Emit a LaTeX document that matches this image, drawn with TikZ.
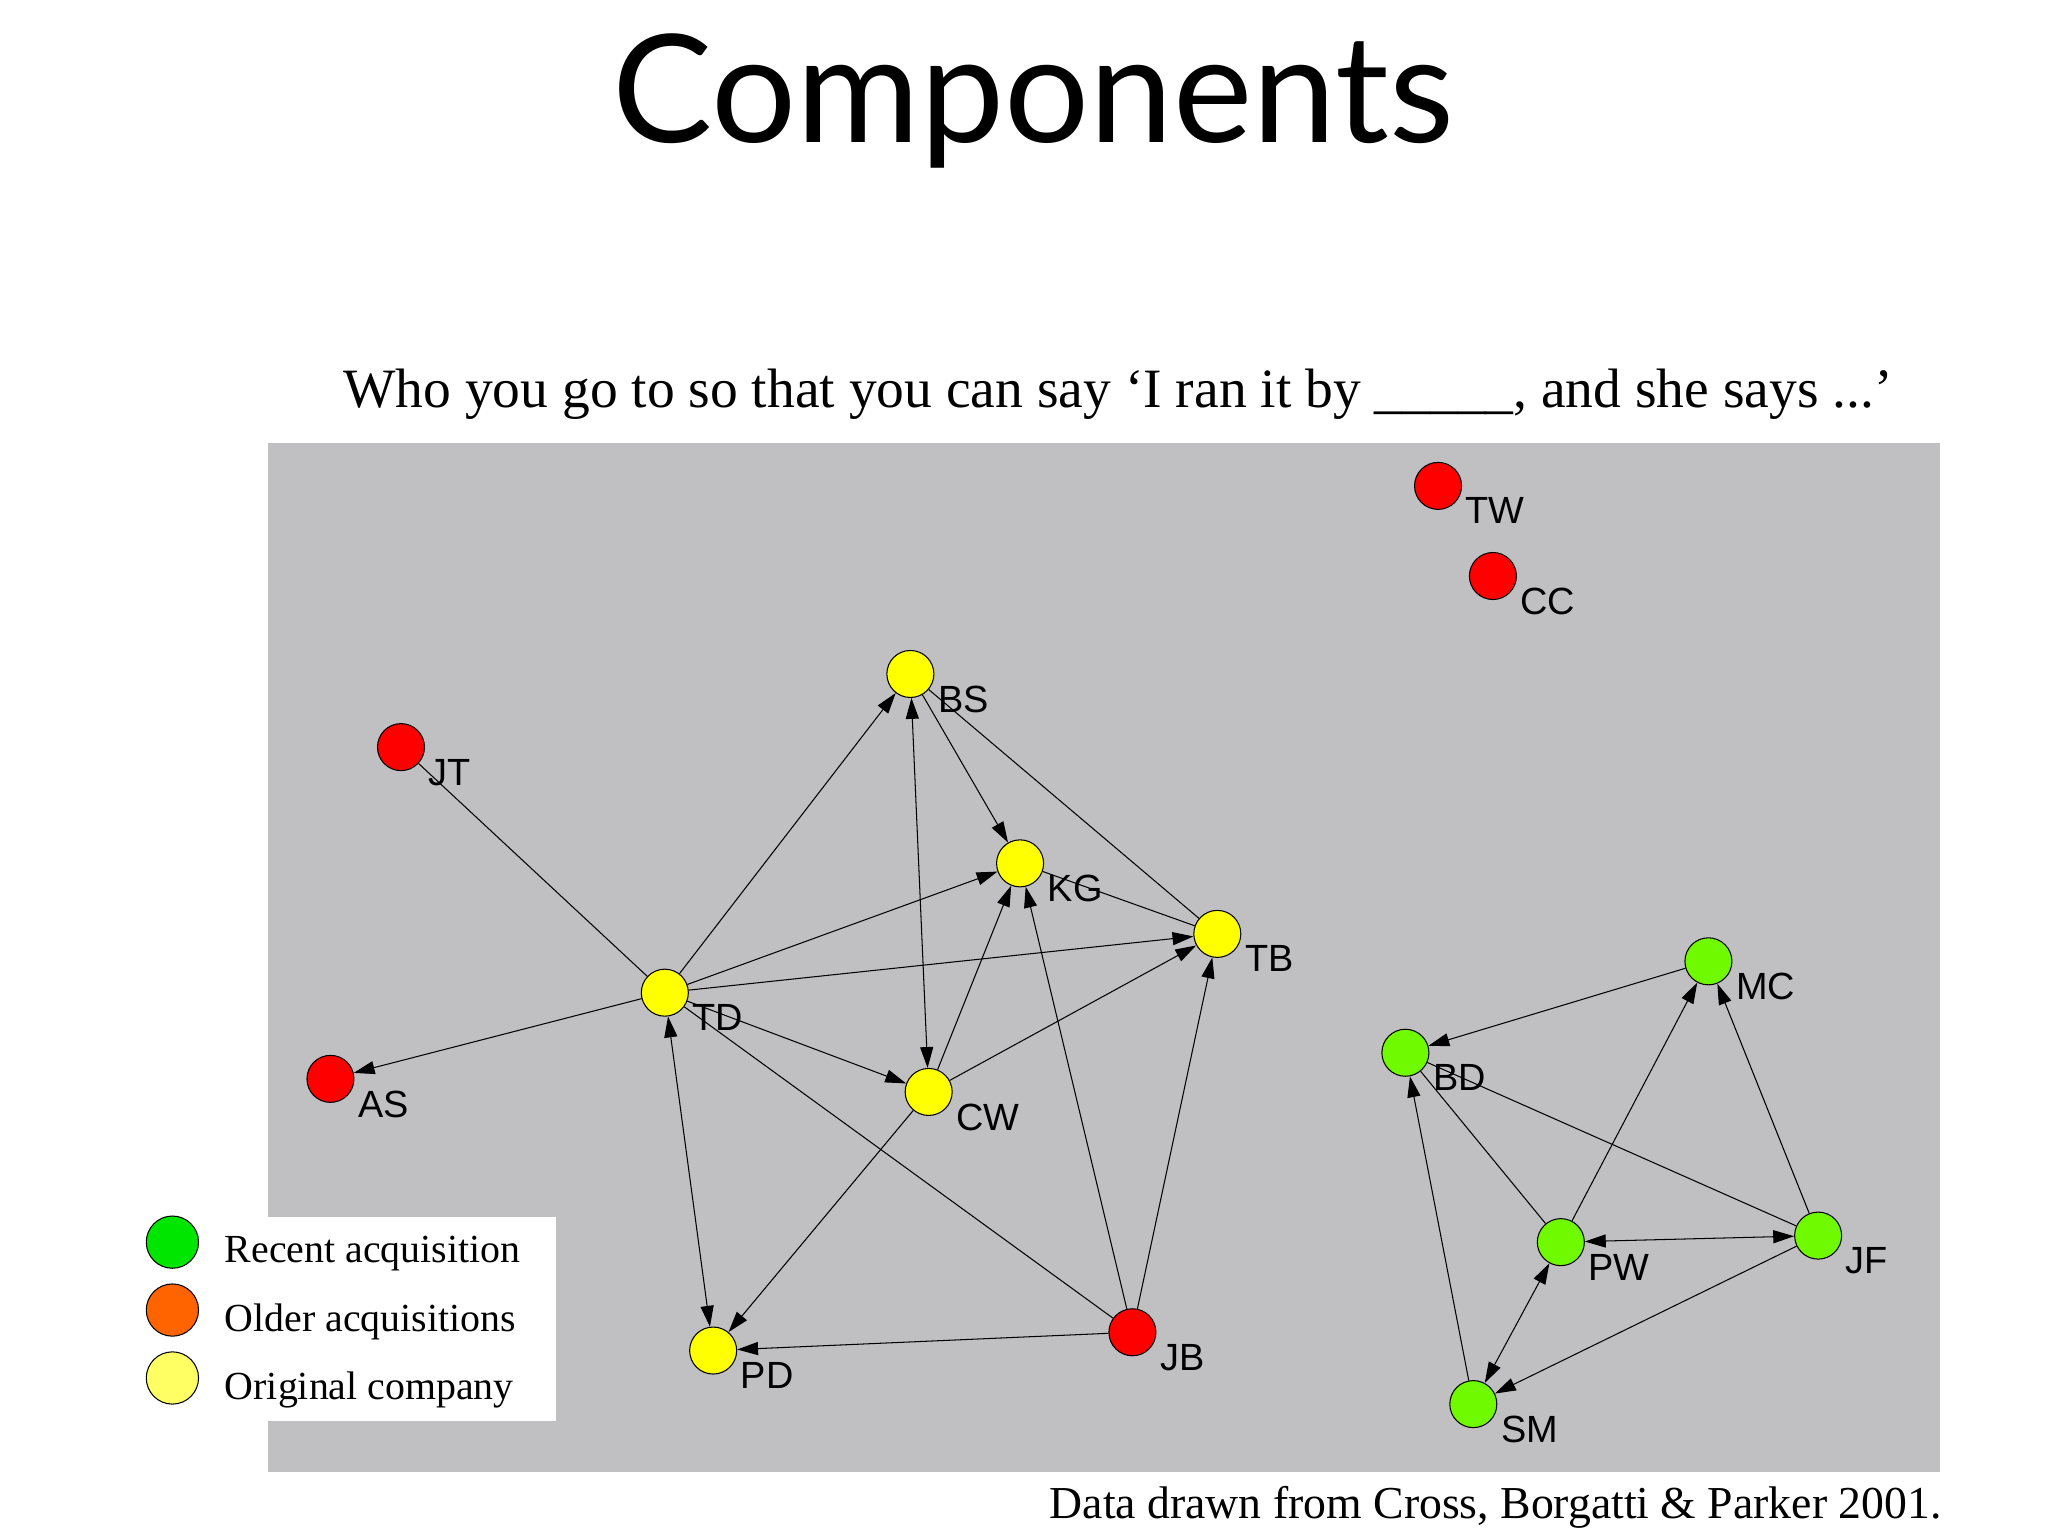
\documentclass[tikz,border=0pt]{standalone}
\usepackage{fontspec}
\setmainfont{Liberation Serif}
\newfontfamily\arial{Liberation Sans}
\newfontfamily\titlefont{Lato}
\usetikzlibrary{arrows.meta}
\definecolor{panel}{RGB}{192,192,194}
\definecolor{nyel}{RGB}{255,255,0}
\definecolor{nred}{RGB}{255,0,0}
\definecolor{ngrn}{RGB}{112,250,0}
\definecolor{lgrn}{RGB}{0,230,0}
\definecolor{lorg}{RGB}{255,100,0}
\definecolor{lyel}{RGB}{255,255,100}
\tikzset{
  vtx/.style={circle,draw=black,line width=0.8pt,minimum size=36pt,inner sep=0pt},
  lbl/.style={font=\arial\fontsize{29}{29}\selectfont,anchor=north west,inner sep=0pt},
  edge/.style={line width=0.8pt},
  arr/.style={edge,-{Triangle[length=16pt,width=10pt]}},
  barr/.style={edge,{Triangle[length=16pt,width=10pt]}-{Triangle[length=16pt,width=10pt]}},
  leg/.style={circle,draw=black,line width=0.8pt,minimum size=40pt,inner sep=0pt},
  legt/.style={font=\fontsize{30.5}{30.5}\selectfont,anchor=west,inner sep=0pt}
}
\begin{document}
\begin{tikzpicture}[x=1pt,y=-1pt]
\useasboundingbox[fill=white] (0,0) rectangle (1568,1176);
\node (title) at (791,77) {\titlefont\fontsize{115}{115}\selectfont Components};
\node (sub) at (856,302) {\fontsize{42.5}{42.5}\selectfont Who you go to so that you can say ‘I ran it by \_\_\_\_\_, and she says ...’};
\fill[panel] (205,339) rectangle (1485,1127);
\fill[white] (100,932) rectangle (426,1088);
\node[anchor=east] (foot) at (1490,1154) {\fontsize{35}{35}\selectfont Data drawn from Cross, Borgatti \& Parker 2001.};
% nodes
\foreach \n/\x/\y/\c in {TW/1101/372/nred,CC/1143/441/nred,BS/697/516/nyel,JT/307/572/nred,KG/781/661/nyel,TB/932/715/nyel,TD/509/760/nyel,AS/253/826/nred,CW/711/836/nyel,MC/1308/736/ngrn,BD/1076/806/ngrn,PW/1195/951/ngrn,JF/1392/946/ngrn,SM/1128/1075/ngrn,PD/546/1034/nyel,JB/867/1020/nred}{
  \node[vtx,fill=\c] (\n) at (\x,\y) {};
  \node[lbl] (\n l) at (\x+21,\y+9) {\n};
}
% edges
\draw[edge] (TD) -- (JT);
\draw[edge] (TD) -- (JB);
\draw[arr] (TD) -- (AS);
\draw[arr] (TD) -- (BS);
\draw[arr] (TD) -- (KG);
\draw[arr] (TD) -- (TB);
\draw[arr] (TD) -- (CW);
\draw[barr] (TD) -- (PD);
\draw[barr] (BS) -- (CW);
\draw[arr] (BS) -- (KG);
\draw[edge] (BS) -- (TB);
\draw[edge] (KG) -- (TB);
\draw[arr] (CW) -- (KG);
\draw[arr] (CW) -- (TB);
\draw[arr] (CW) -- (PD);
\draw[arr] (JB) -- (KG);
\draw[arr] (JB) -- (TB);
\draw[arr] (JB) -- (PD);
\draw[arr] (MC) -- (BD);
\draw[arr] (PW) -- (MC);
\draw[arr] (JF) -- (MC);
\draw[barr] (PW) -- (JF);
\draw[arr] (JF) -- (SM);
\draw[barr] (PW) -- (SM);
\draw[arr] (SM) -- (BD);
\draw[edge] (BD) -- (PW);
\draw[edge] (BD) -- (JF);
% legend
\node[leg,fill=lgrn] (l1) at (132,951) {};
\node[leg,fill=lorg] (l2) at (132,1003) {};
\node[leg,fill=lyel] (l3) at (132,1055) {};
\node[legt] (t1) at (172,960) {Recent acquisition};
\node[legt] (t2) at (172,1012) {Older acquisitions};
\node[legt] (t3) at (172,1064) {Original company};
\end{tikzpicture}
\end{document}
